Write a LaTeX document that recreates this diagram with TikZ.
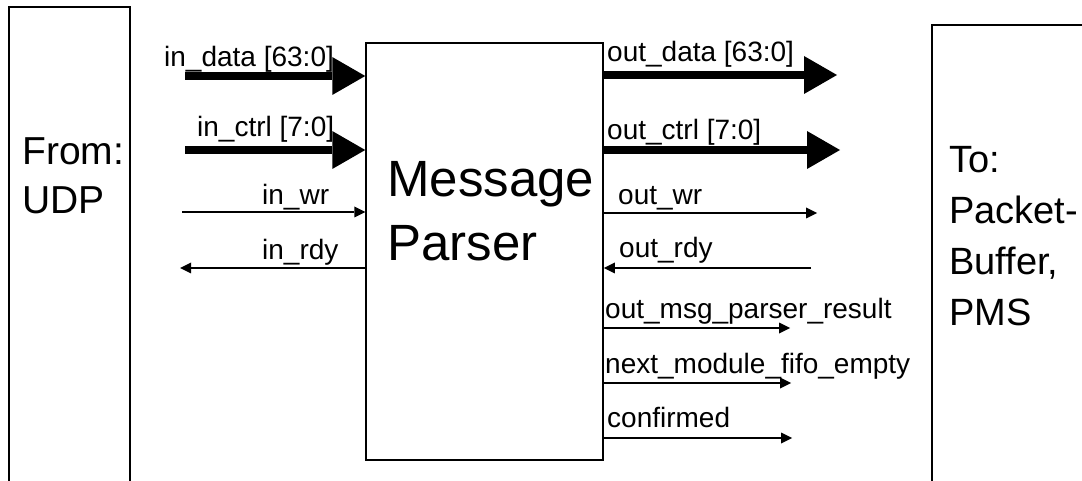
\documentclass[tikz,border=0pt]{standalone}
\usepackage{fontspec}
\setmainfont{Liberation Sans}
\usepackage{tikz}
\usetikzlibrary{positioning}
\usetikzlibrary{calc,arrows.meta}
\tikzset{
	x=1pt, y=-1pt,
	block/.style = {draw, line width=1.5pt, inner sep=0pt},
	bus/.style = {line width=8pt, -{Triangle[length=33pt,width=38pt,line width=0pt]}},
	wire/.style = {line width=1.3pt, -{Triangle[length=11pt,width=11pt,line width=0pt]}},
	sig/.style = {anchor=base west, inner sep=0pt, font=\fontsize{28}{34}\selectfont},
	big/.style = {anchor=base west, align=left, inner sep=0pt, font=\fontsize{39}{49}\selectfont},
}

\begin{document}
\begin{tikzpicture}
	\clip (0,0) rectangle (1082,481);
	% the three blocks (base anchor sits on the last text line)
	\node at(69.5,253.5) (FromBox) [block, minimum width=121pt, minimum height=493pt] {};
	\node at(484.5,251.5) (Parser) [block, minimum width=237pt, minimum height=417pt] {};
	\node at(1021,262.5) (ToBox) [block, minimum width=178pt, minimum height=475pt] {};
	\node at(22,214) (FromText) [big] {From:\\UDP};
	\node at(387,261) (ParserText) [big, font=\fontsize{51}{64}\selectfont] {Message\\Parser};
	\node at(949,325) (ToText) [big, font=\fontsize{38}{51}\selectfont] {To:\\Packet-\\Buffer,\\PMS};
	% input side
	\coordinate (InData) at (185,76);
	\coordinate (InCtrl) at (185,150);
	\coordinate (InWr) at (182,212);
	\coordinate (InRdy) at (180,268);
	\draw[bus] (InData) -- (InData -| Parser.west);
	\draw[bus] (InCtrl) -- (InCtrl -| Parser.west);
	\draw[wire] (InWr) -- (InWr -| Parser.west);
	\draw[wire] (InRdy -| Parser.west) -- (InRdy);
	\node at(164,67) (InDataLbl) [sig] {in\_data [63:0]};
	\node at(197,137) (InCtrlLbl) [sig] {in\_ctrl [7:0]};
	\node at(262,205) (InWrLbl) [sig] {in\_wr};
	\node at(262,259) (InRdyLbl) [sig] {in\_rdy};
	% output side
	\coordinate (OutData) at (837,75);
	\coordinate (OutCtrl) at (840,150);
	\coordinate (OutWr) at (817,213);
	\coordinate (OutRdy) at (811,268);
	\coordinate (OutResult) at (790,328);
	\coordinate (FifoEmpty) at (791,383);
	\coordinate (Confirmed) at (792,438);
	\draw[bus] (OutData -| Parser.east) -- (OutData);
	\draw[bus] (OutCtrl -| Parser.east) -- (OutCtrl);
	\draw[wire] (OutWr -| Parser.east) -- (OutWr);
	\draw[wire] (OutRdy) -- (OutRdy -| Parser.east);
	\draw[wire] (OutResult -| Parser.east) -- (OutResult);
	\draw[wire] (FifoEmpty -| Parser.east) -- (FifoEmpty);
	\draw[wire] (Confirmed -| Parser.east) -- (Confirmed);
	\node at(607,62) (OutDataLbl) [sig] {out\_data [63:0]};
	\node at(607,140) (OutCtrlLbl) [sig] {out\_ctrl [7:0]};
	\node at(618,205) (OutWrLbl) [sig] {out\_wr};
	\node at(619,258) (OutRdyLbl) [sig] {out\_rdy};
	\node at(605,318) (OutResultLbl) [sig] {out\_msg\_parser\_result};
	\node at(605,373) (FifoEmptyLbl) [sig] {next\_module\_fifo\_empty};
	\node at(607,427) (ConfirmedLbl) [sig] {confirmed};
\end{tikzpicture}
\end{document}
